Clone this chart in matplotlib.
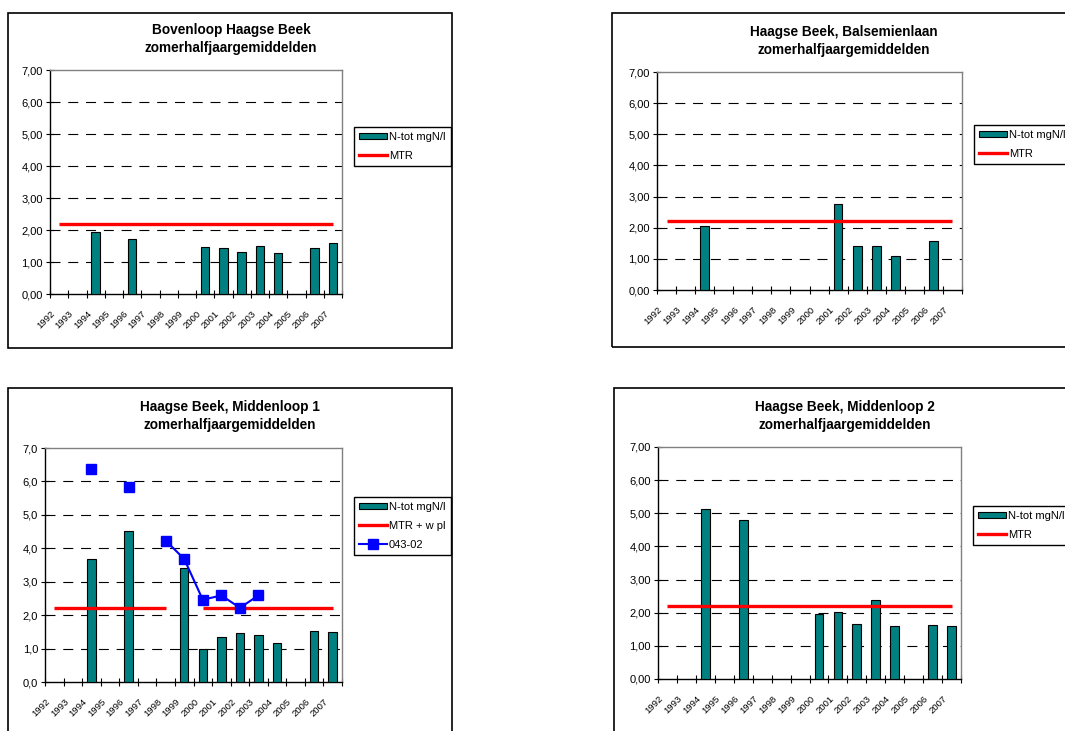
import numpy as np
import matplotlib.pyplot as plt
from matplotlib.patches import Rectangle, Patch
from matplotlib.lines import Line2D
from matplotlib.ticker import FuncFormatter

plt.rcParams['font.family'] = ['Liberation Sans', 'DejaVu Sans']

nan = np.nan

# jaren op de categorie-as
years = ['1992', '1993', '1994', '1995', '1996', '1997', '1998', '1999',
         '2000', '2001', '2002', '2003', '2004', '2005', '2006', '2007']

# N-tot zomerhalfjaargemiddelden (mgN/l)
bovenloop_ntot = [nan, nan, 1.93, nan, 1.73, nan, nan, nan,
                  1.47, 1.44, 1.30, 1.49, 1.27, nan, 1.44, 1.59]
balsemienlaan_ntot = [nan, nan, 2.05, nan, nan, nan, nan, nan,
                      nan, 2.76, 1.41, 1.41, 1.10, nan, 1.56, nan]
middenloop1_ntot = [nan, nan, 3.69, nan, 4.51, nan, nan, 3.40,
                    0.99, 1.36, 1.47, 1.40, 1.17, nan, 1.53, 1.50]
middenloop1_04302 = [nan, nan, 6.37, nan, 5.83, nan, 4.23, 3.68,
                     2.46, 2.59, 2.22, 2.59, nan, nan, nan, nan]
middenloop2_ntot = [nan, nan, 5.12, nan, 4.79, nan, nan, nan,
                    1.95, 2.01, 1.66, 2.37, 1.59, nan, 1.63, 1.59]

# MTR norm
mtr = [2.2, 2.2, 2.2, 2.2, 2.2, 2.2, 2.2, 2.2,
       2.2, 2.2, 2.2, 2.2, 2.2, 2.2, 2.2, 2.2]
mtr_wpl = [2.2, 2.2, 2.2, 2.2, 2.2, 2.2, 2.2, nan,
           2.2, 2.2, 2.2, 2.2, 2.2, 2.2, 2.2, 2.2]

W, H = 1065, 731
fig = plt.figure(figsize=(W / 100, H / 100), dpi=100)

TEAL = '#008080'


def px_axes(l, t, r, b):
    return fig.add_axes([l / W, 1 - b / H, (r - l) / W, (b - t) / H])


def frame(l, t, r, b):
    fig.patches.append(Rectangle((l / W, 1 - b / H), (r - l) / W, (b - t) / H,
                                 transform=fig.transFigure, fill=False,
                                 edgecolor='black', linewidth=1.2))


def panel(box, frm, title_xy, title, ntot, mtr_vals, mtr_label, decimals,
          legend_xy, extra=None):
    frame(*frm)
    tx, ty = title_xy
    fig.text(tx / W, 1 - ty / H, title + '\nzomerhalfjaargemiddelden',
             ha='center', va='center', fontsize=9.8, fontweight='bold',
             linespacing=1.35)

    ax = px_axes(*box)
    x = np.arange(len(years)) + 0.5
    ax.bar(x, ntot, width=0.46, color=TEAL, edgecolor='black', linewidth=0.8,
           zorder=3)
    ax.plot(x, mtr_vals, color='#ff0000', linewidth=2.4, zorder=4,
            solid_capstyle='butt')
    if extra is not None:
        ax.plot(x, extra, color='#0000ff', linewidth=1.5, marker='s',
                markersize=7, zorder=5)

    ax.set_xlim(0, len(years))
    ax.set_ylim(0, 7)
    ax.set_yticks(range(0, 8))
    fmt = '{:.%df}' % decimals
    ax.yaxis.set_major_formatter(
        FuncFormatter(lambda v, p: fmt.format(v).replace('.', ',')))
    for yv in range(1, 7):
        ax.axhline(yv, color='black', linewidth=0.8, dashes=(9, 7), zorder=1)

    ax.set_xticks(range(0, len(years) + 1))
    ax.set_xticklabels([])
    ax.set_xticks(np.arange(len(years)) + 0.2, minor=True)
    ax.set_xticklabels(years, minor=True, rotation=45, ha='right',
                       va='center', rotation_mode='anchor', fontsize=6.8)
    ax.tick_params(axis='x', which='major', direction='inout', length=6,
                   width=0.8)
    ax.tick_params(axis='x', which='minor', length=0, pad=13)
    ax.tick_params(axis='y', direction='inout', length=6, width=0.8,
                   labelsize=8, pad=2)

    for s in ('top', 'right'):
        ax.spines[s].set_color('#808080')
        ax.spines[s].set_linewidth(1.0)
    for s in ('left', 'bottom'):
        ax.spines[s].set_linewidth(1.0)

    handles = [Patch(facecolor=TEAL, edgecolor='black', linewidth=0.8),
               Line2D([], [], color='#ff0000', linewidth=2.4)]
    labels = ['N-tot mgN/l', mtr_label]
    if extra is not None:
        handles.append(Line2D([], [], color='#0000ff', linewidth=1.5,
                              marker='s', markersize=7))
        labels.append('043-02')
    lx, ly = legend_xy
    leg = ax.legend(handles, labels, loc='upper left',
                    bbox_to_anchor=(lx / W, 1 - ly / H),
                    bbox_transform=fig.transFigure, fontsize=8,
                    frameon=True, fancybox=False, framealpha=1,
                    edgecolor='black', borderpad=0.45, labelspacing=0.8,
                    handlelength=2.5, handleheight=0.5, handletextpad=0.2,
                    borderaxespad=0, numpoints=1)
    leg.get_frame().set_linewidth(1.0)
    return ax


panel((50, 70, 342, 294), (8, 13, 452, 348), (231, 39),
      'Bovenloop Haagse Beek', bovenloop_ntot, mtr, 'MTR', 2, (354, 127))
panel((657, 72, 962, 290), (612, 13, 1100, 347), (844, 41),
      'Haagse Beek, Balsemienlaan', balsemienlaan_ntot, mtr, 'MTR', 2,
      (974, 125))
panel((45, 448, 342, 682), (8, 388, 452, 800), (230, 416),
      'Haagse Beek, Middenloop 1', middenloop1_ntot, mtr_wpl, 'MTR + w pl', 1,
      (354, 497), extra=middenloop1_04302)
panel((658, 447, 961, 679), (614, 388, 1100, 800), (845, 416),
      'Haagse Beek, Middenloop 2', middenloop2_ntot, mtr, 'MTR', 2,
      (973, 506))

fig.savefig('out.png', dpi=100)
